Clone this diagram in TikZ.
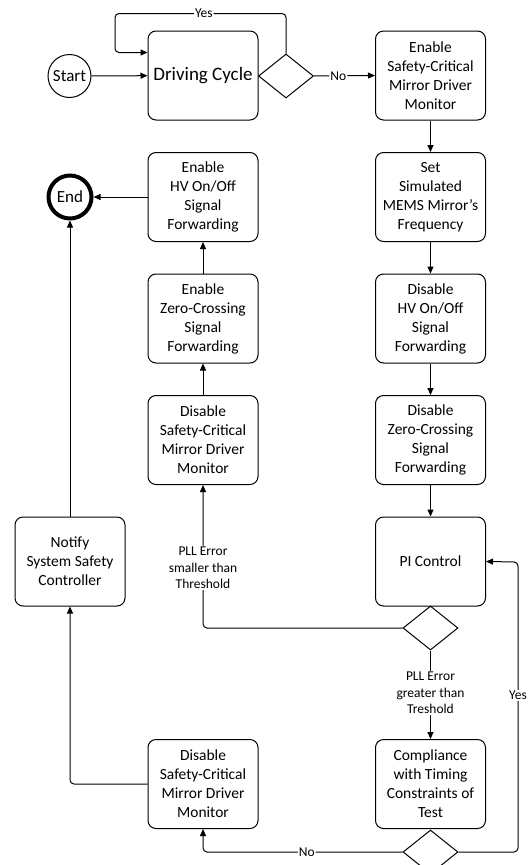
\documentclass[tikz,border=0pt]{standalone}
\usepackage{fontspec}
\setmainfont{Carlito}
\usetikzlibrary{arrows.meta,shapes.geometric}
\begin{document}
\begin{tikzpicture}[x=1pt,y=-1pt,line width=1pt,
  box/.style={draw, rounded corners=8pt, minimum width=110pt, minimum height=89pt,
    align=center, inner sep=2pt, font=\fontsize{15.5}{19}\selectfont},
  term/.style={draw, circle, minimum size=43pt, inner sep=0pt, font=\fontsize{17}{20}\selectfont},
  dec/.style={draw, diamond, aspect=1.25, minimum width=55pt, minimum height=44pt, inner sep=0pt},
  lbl/.style={fill=white, inner sep=1pt, align=center, font=\fontsize{13.5}{16.7}\selectfont},
  arr/.style={-{Triangle[length=7pt,width=6pt]}, rounded corners=4pt}]
\clip (0,0) rectangle (530,865);
\fill[white] (0,0) rectangle (530,865);

% upper row
\node[term] (start) at (69.5,76) {Start};
\node[box, font=\fontsize{19}{22}\selectfont] (dc) at (203,75.5) {Driving Cycle};
\node[dec] (d1) at (286,76) {};
\node[box] (r1) at (430.5,75.5) {Enable\\Safety-Critical\\Mirror Driver\\Monitor};

% right column
\node[box] (r2) at (430.5,197) {Set\\Simulated\\MEMS Mirror’s\\Frequency};
\node[box] (r3) at (430.5,318.5) {Disable\\HV On/Off\\Signal\\Forwarding};
\node[box] (r4) at (430.5,440) {Disable\\Zero-Crossing\\Signal\\Forwarding};
\node[box] (pi) at (430.5,561.5) {PI Control};
\node[dec] (dpll) at (430.5,628) {};
\node[box] (comp) at (430.5,784) {Compliance\\with Timing\\Constraints of\\Test};
\node[dec] (dlow) at (430.5,852) {};

% left column
\node[term, line width=4pt] (end) at (70,197) {End};
\node[box] (l2) at (203,197) {Enable\\HV On/Off\\Signal\\Forwarding};
\node[box] (l3) at (203,318.5) {Enable\\Zero-Crossing\\Signal\\Forwarding};
\node[box] (l4) at (203,440) {Disable\\Safety-Critical\\Mirror Driver\\Monitor};
\node[box] (notify) at (70,561.5) {Notify\\System Safety\\Controller};
\node[box] (lb) at (203,784) {Disable\\Safety-Critical\\Mirror Driver\\Monitor};

% helper corners
\coordinate (yl) at (115,13.5);
\coordinate (yr) at (518,562);

% connectors
\draw[arr] (start) -- (dc);
\draw[arr] (d1.north) |- node[lbl, pos=0.74] {Yes} (yl) |- ([yshift=23pt]dc.west);
\draw[arr] (d1.east) -- node[lbl, pos=0.4] {No} (r1.west);
\draw[arr] (r1) -- (r2);
\draw[arr] (r2) -- (r3);
\draw[arr] (r3) -- (r4);
\draw[arr] (r4) -- (pi);
\draw[arr] (dpll.west) -| node[lbl, pos=0.71] {PLL Error\\smaller than\\Threshold} (l4.south);
\draw[arr] (dpll.south) -- node[lbl, pos=0.48] {PLL Error\\greater than\\Treshold} (comp.north);
\draw[arr] (dlow.west) -| node[lbl, pos=0.24] {No} (lb.south);
\draw[arr] (dlow.east) -| node[lbl, pos=0.77] {Yes} (yr) -- (pi.east);
\draw[arr] (l4) -- (l3);
\draw[arr] (l3) -- (l2);
\draw[arr] (l2) -- (end);
\draw[arr] (lb.west) -| (notify.south);
\draw[arr] (notify) -- (end);
\end{tikzpicture}
\end{document}
